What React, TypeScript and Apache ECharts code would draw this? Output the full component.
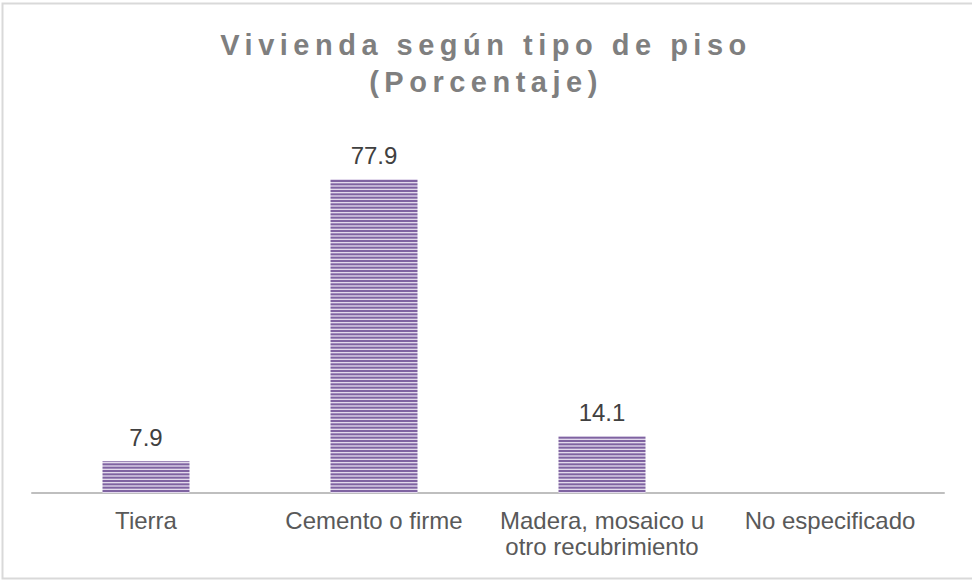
import React, { useEffect, useRef } from "react";
import * as echarts from "echarts";

const titleLines = ["Vivienda según tipo de piso", "(Porcentaje)"];
const categories = [
  "Tierra",
  "Cemento o firme",
  "Madera, mosaico u\notro recubrimiento",
  "No especificado",
];
const values: (number | null)[] = [7.9, 77.9, 14.1, null];

function makeStripePattern(): HTMLCanvasElement {
  const c = document.createElement("canvas");
  c.width = 4;
  c.height = 10;
  const ctx = c.getContext("2d")!;
  ctx.fillStyle = "#e2d9ec";
  ctx.fillRect(0, 0, 4, 10);
  ctx.fillStyle = "#7f63a1";
  for (let i = 0; i < 3; i++) {
    ctx.fillRect(0, (i * 10) / 3, 4, 2);
  }
  return c;
}

export default function App() {
  const ref = useRef<HTMLDivElement>(null);
  useEffect(() => {
    if (!ref.current) return;
    const chart = echarts.init(ref.current, undefined, { renderer: "svg" });
    const pattern = makeStripePattern();
    chart.setOption({
      animation: false,
      backgroundColor: "#ffffff",
      title: {
        text: titleLines.join("\n"),
        left: "center",
        top: 21,
        textStyle: {
          fontFamily: "Liberation Sans, Arial, sans-serif",
          fontSize: 29,
          fontWeight: "bold",
          color: "#7f7f7f",
          lineHeight: 37,
        },
      },
      graphic: [
        {
          type: "rect",
          shape: { x: 2.5, y: 3.5, width: 980, height: 575 },
          style: { fill: "none", stroke: "#d9d9d9", lineWidth: 2 },
          silent: true,
          z: -1,
        },
      ],
      grid: { left: 32, right: 28, top: 170.5, bottom: 88, containLabel: false },
      xAxis: {
        type: "category",
        data: categories,
        axisLine: { show: true, lineStyle: { color: "#bfbfbf", width: 2 } },
        axisTick: { show: false },
        axisLabel: {
          interval: 0,
          margin: 14,
          fontFamily: "Liberation Sans, Arial, sans-serif",
          fontSize: 24,
          lineHeight: 26,
          color: "#595959",
        },
      },
      yAxis: {
        type: "value",
        min: 0,
        max: 80,
        show: false,
        splitLine: { show: false },
      },
      series: [
        {
          type: "bar",
          data: values,
          barWidth: 87,
          itemStyle: {
            color: { image: pattern, repeat: "repeat" },
          },
          label: {
            show: true,
            position: "top",
            distance: 10,
            fontFamily: "Liberation Sans, Arial, sans-serif",
            fontSize: 24,
            lineHeight: 27,
            color: "#404040",
            formatter: (p: any) => (p.value == null ? "" : Number(p.value).toFixed(1)),
          },
        },
      ],
    });
    const applySpacing = () => {
      const el = ref.current;
      if (!el) return;
      el.querySelectorAll("text").forEach((t) => {
        const s = (t.textContent || "").trim();
        if (titleLines.includes(s)) {
          (t as SVGTextElement).setAttribute("letter-spacing", "5.5");
        }
      });
    };
    applySpacing();
    chart.on("finished", applySpacing);
    return () => chart.dispose();
  }, []);
  return (
    <div
      ref={ref}
      style={{ position: "fixed", left: 0, top: 0, width: 972, height: 581 }}
    />
  );
}
